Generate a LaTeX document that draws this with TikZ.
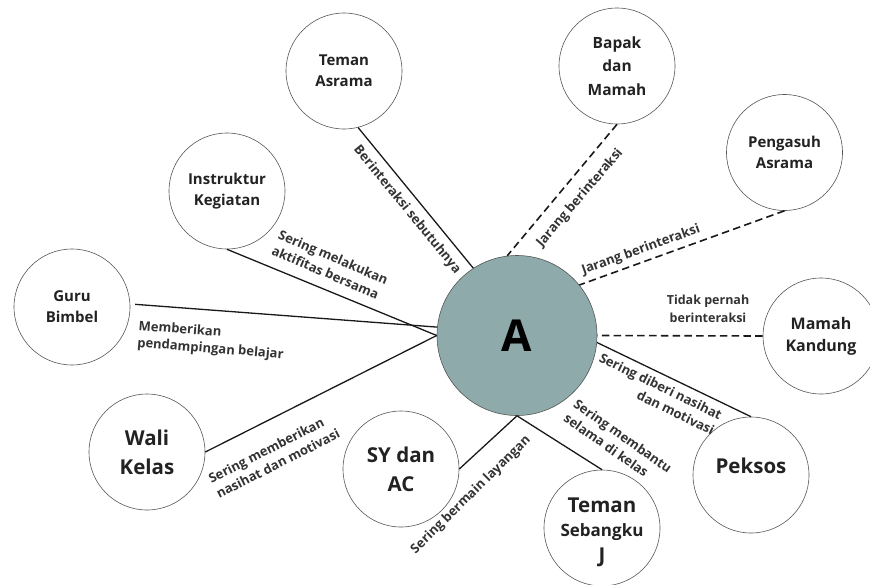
\documentclass[tikz,border=0pt]{standalone}
\usepackage{fontspec}
\setmainfont{Open Sans}
\definecolor{afill}{HTML}{8EAAAA}
\definecolor{ink}{HTML}{222222}
\definecolor{lblink}{HTML}{333333}
\definecolor{rim}{HTML}{555555}
\tikzset{
  pers/.style={circle, draw=rim, line width=0.6pt, minimum size=116pt, inner sep=0pt,
    align=center, text=ink, font=\bfseries\fontsize{15}{21}\selectfont},
  big/.style={font=\bfseries\fontsize{20.5}{29}\selectfont},
  mid/.style={font=\bfseries\fontsize{17}{20}\selectfont},
  lbl/.style={font=\bfseries\fontsize{13}{17}\selectfont, text=lblink, inner sep=0pt},
  rel/.style={line width=1.3pt, draw=black!90},
  rare/.style={line width=1.6pt, draw=black!90, dash pattern=on 7.5pt off 4.3pt},
}
\begin{document}
\begin{tikzpicture}[x=1pt,y=-1pt]
\useasboundingbox (0,0) rectangle (870,584);
% persons
\node[pers] (ta) at (344,71) {Teman\\Asrama};
\node[pers, font=\bfseries\fontsize{15.5}{23.5}\selectfont] (bm) at (617,66) {Bapak\\dan\\Mamah};
\node[pers] (pa) at (784.5,152.5) {Pengasuh\\Asrama};
\node[pers, font=\bfseries\fontsize{16}{22}\selectfont] (mk) at (821,336) {Mamah\\Kandung};
\node[pers, label={[big, text=ink, yshift=9pt]center:Peksos}] (pk) at (751,475) {};
\node[pers,
  label={[big, text=ink, yshift=23pt]center:Teman},
  label={[mid, text=ink, yshift=-4pt]center:Sebangku},
  label={[big, text=ink, yshift=-29pt]center:J}] (tsb) at (602,528) {};
\node[pers, big] (sy) at (401,469) {SY dan\\AC};
\node[pers, big] (wk) at (147,452) {Wali\\Kelas};
\node[pers] (gb) at (72,307) {Guru\\Bimbel};
\node[pers] (ik) at (227,191) {Instruktur\\Kegiatan};
\node[circle, draw=rim, line width=0.6pt, fill=afill, minimum size=160pt, inner sep=0pt,
  text=black, font=\bfseries\fontsize{44}{50}\selectfont] (A) at (517,335.5) {A};
% connectors
\draw[rel] (ta.-76) -- (A.123);
\draw[rare] (bm.south) -- (A.97);
\draw[rare] (pa.south) -- (A.39);
\draw[rare] (mk.west) -- (A.east);
\draw[rel] (A.-5) -- (pk.north);
\draw[rel] (A.south) -- (tsb.north);
\draw[rel] (sy.east) -- (A.south);
\draw[rel] (wk.east) -- (A.west);
\draw[rel, shorten <=5pt] (gb.3) -- (A.174);
\draw[rel] (ik.south) -- (A.west);
% labels
\node[lbl, rotate=-50.7] (l1) at (407,210) {Berinteraksi sebutuhnya};
\node[lbl, rotate=49.3] (l2) at (580,198) {Jarang berinteraksi};
\node[lbl, rotate=19.8] (l3) at (641,250) {Jarang berinteraksi};
\node[lbl, align=center, font=\bfseries\fontsize{12.5}{18}\selectfont] (l4) at (708,309) {Tidak pernah\\berinteraksi};
\node[lbl, rotate=-26, align=right] (l5) at (657,394) {Sering diberi nasihat\\dan motivasi};
\node[lbl, rotate=-35, align=left] (l6) at (618,443) {Sering membantu\\selama di kelas};
\node[lbl, rotate=44.5] (l7) at (471,495) {Sering bermain layangan};
\node[lbl, rotate=27, align=left] (l8) at (274,456) {Sering memberikan\\nasihat dan motivasi};
\node[lbl, rotate=-4.5, align=left, anchor=north west] (l9) at (139,320) {Memberikan\\pendampingan belajar};
\node[lbl, rotate=-23, align=left] (l10) at (330,265) {Sering melakukan\\aktifitas bersama};
\end{tikzpicture}
\end{document}
